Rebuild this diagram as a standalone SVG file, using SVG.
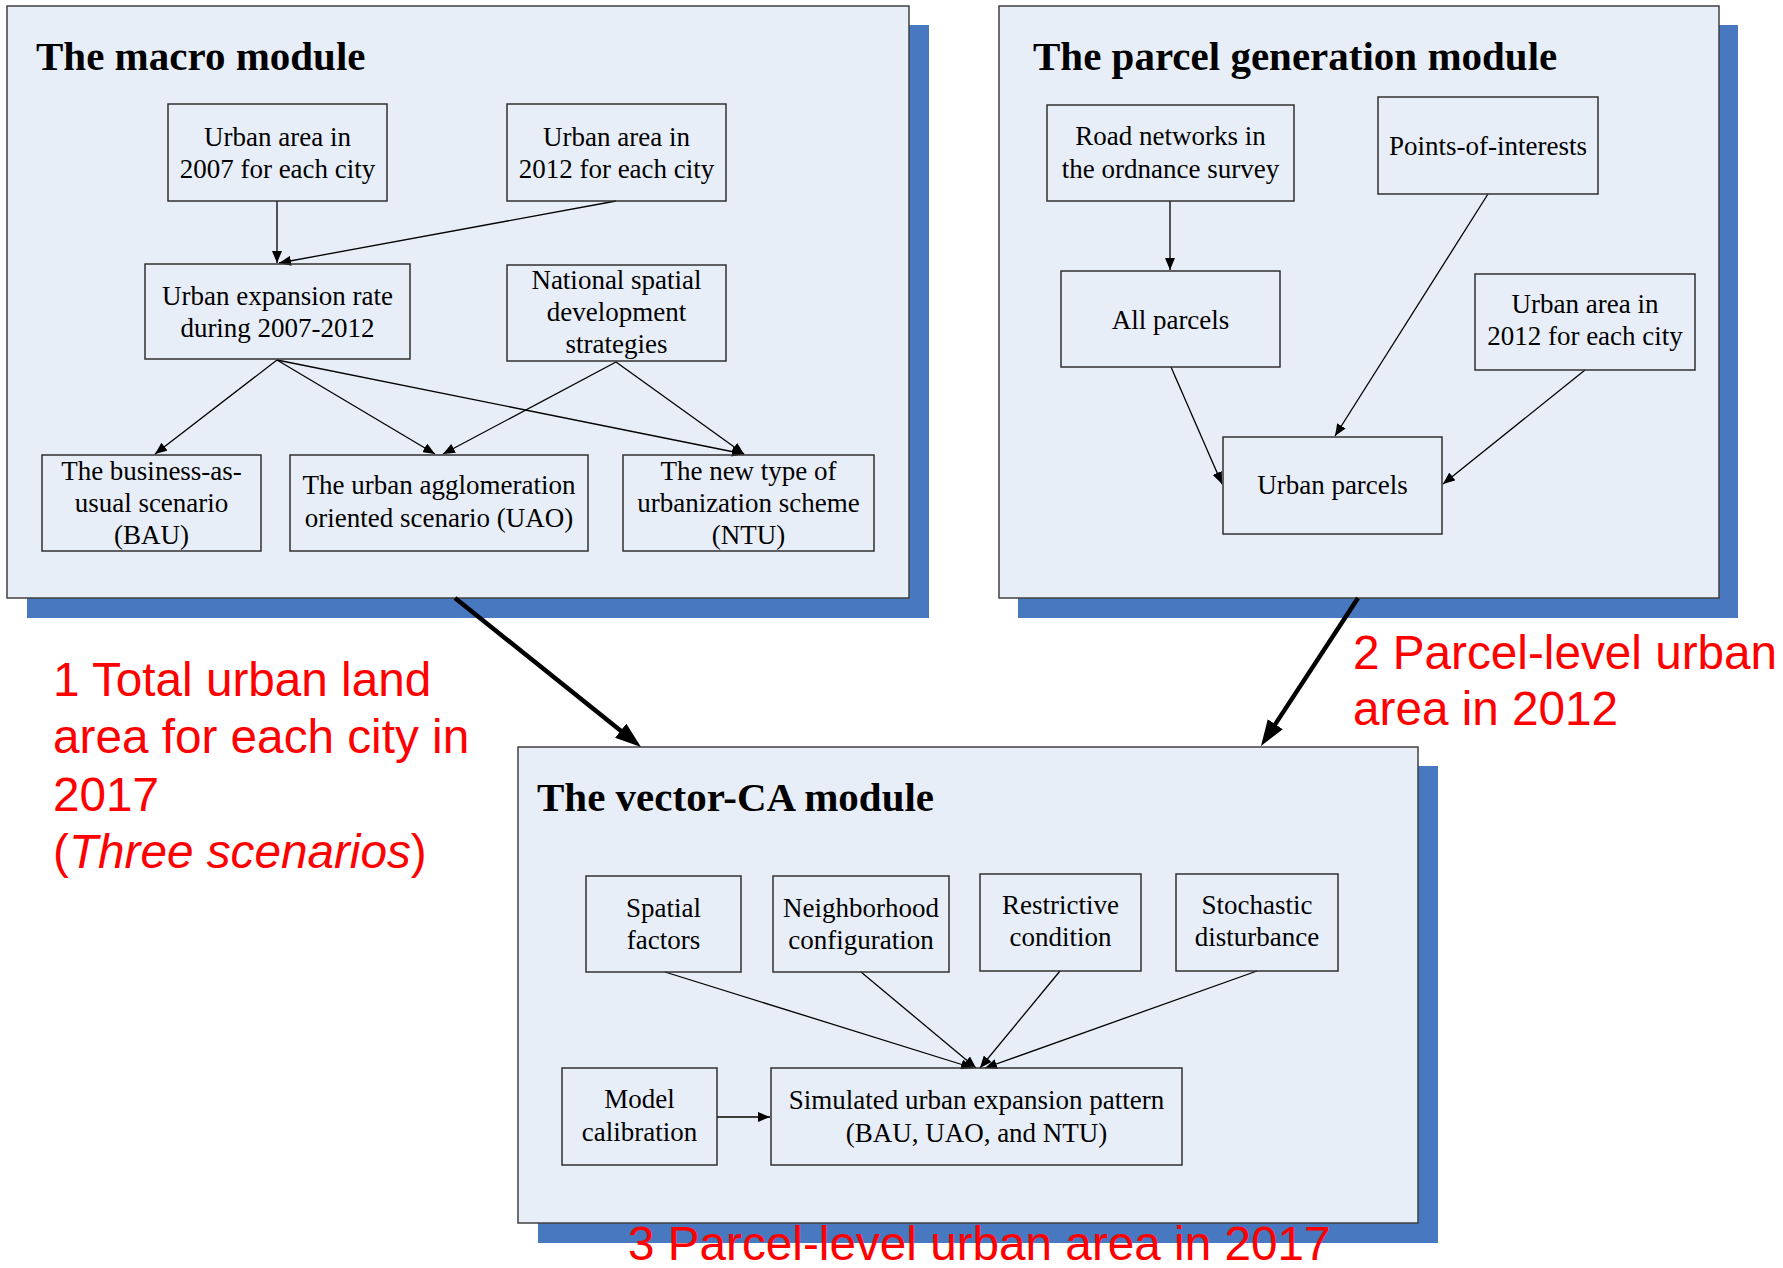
<svg xmlns="http://www.w3.org/2000/svg" width="1783" height="1268" viewBox="0 0 1783 1268">
<style>
.shadow{fill:#4878C0}
.panel{fill:#E8EEF8;stroke:#404040;stroke-width:1.5}
.node rect{fill:none;stroke:#303030;stroke-width:1.5}
.t{font-family:"Liberation Serif","Times New Roman",serif;font-size:27px;text-anchor:middle;fill:#000}
.title{font-family:"Liberation Serif","Times New Roman",serif;font-weight:bold;font-size:41px;fill:#000}
.red{font-family:"Liberation Sans",Arial,sans-serif;font-size:47.7px;fill:#FF0000}
.conn{stroke:#000;stroke-width:1.3;fill:none;marker-end:url(#a)}
.thick{stroke:#000;stroke-width:4.5;fill:none;marker-end:url(#A)}
</style>
<defs>
<marker id="a" markerUnits="userSpaceOnUse" markerWidth="13" markerHeight="10" refX="12" refY="5" orient="auto">
<path d="M0,0 L12,5 L0,10 z" fill="#000"/>
</marker>
<marker id="A" markerUnits="userSpaceOnUse" markerWidth="26" markerHeight="20" refX="16" refY="9" orient="auto">
<path d="M0,0 L26,9 L0,18 z" fill="#000"/>
</marker>
</defs>
<rect width="1783" height="1268" fill="#FFFFFF"/>

<g id="panel-macro">
<rect class="shadow" x="27" y="25" width="902" height="593"/>
<rect class="panel" x="7" y="6" width="902" height="592"/>
<text class="title" x="36" y="70">The macro module</text>
</g>
<g id="panel-parcel">
<rect class="shadow" x="1018" y="25" width="720" height="593"/>
<rect class="panel" x="999" y="6" width="720" height="592"/>
<text class="title" x="1033" y="70">The parcel generation module</text>
</g>
<g id="panel-vector">
<rect class="shadow" x="538" y="766" width="900" height="477"/>
<rect class="panel" x="518" y="747" width="900" height="476"/>
<text class="title" x="537" y="811">The vector-CA module</text>
</g>

<g id="connectors">
<line class="conn" x1="277" y1="201" x2="277" y2="263"/>
<line class="conn" x1="616" y1="201" x2="279" y2="263"/>
<line class="conn" x1="277" y1="360" x2="155" y2="454"/>
<line class="conn" x1="277" y1="360" x2="435" y2="454"/>
<line class="conn" x1="277" y1="360" x2="744" y2="454"/>
<line class="conn" x1="616" y1="362" x2="443" y2="454"/>
<line class="conn" x1="616" y1="362" x2="744" y2="454"/>
<line class="conn" x1="1170" y1="201" x2="1170" y2="270"/>
<line class="conn" x1="1171" y1="367" x2="1222" y2="484"/>
<line class="conn" x1="1488" y1="194" x2="1335" y2="436"/>
<line class="conn" x1="1585" y1="370" x2="1443" y2="484"/>
<line class="conn" x1="665" y1="972" x2="973" y2="1068"/>
<line class="conn" x1="861" y1="972" x2="976" y2="1068"/>
<line class="conn" x1="1060" y1="971" x2="980" y2="1068"/>
<line class="conn" x1="1257" y1="971" x2="985" y2="1068"/>
<line class="conn" x1="717" y1="1117" x2="770" y2="1117"/>
<line class="thick" x1="455" y1="598" x2="633.2" y2="740.7"/>
<line class="thick" x1="1358" y1="598" x2="1266.5" y2="737.6"/>
</g>

<g id="n-urban2007" class="node"><rect x="168" y="104" width="219" height="97"/>
<text class="t" x="277.5" y="145.5">Urban area in</text><text class="t" x="277.5" y="177.5">2007 for each city</text></g>
<g id="n-urban2012-macro" class="node"><rect x="507" y="104" width="219" height="97"/>
<text class="t" x="616.5" y="145.5">Urban area in</text><text class="t" x="616.5" y="177.5">2012 for each city</text></g>
<g id="n-rate" class="node"><rect x="145" y="264" width="265" height="95"/>
<text class="t" x="277.5" y="305">Urban expansion rate</text><text class="t" x="277.5" y="337">during 2007-2012</text></g>
<g id="n-national" class="node"><rect x="507" y="265" width="219" height="96"/>
<text class="t" x="616.5" y="289">National spatial</text><text class="t" x="616.5" y="321">development</text><text class="t" x="616.5" y="353">strategies</text></g>
<g id="n-bau" class="node"><rect x="42" y="455" width="219" height="96"/>
<text class="t" x="151.5" y="480">The business-as-</text><text class="t" x="151.5" y="512">usual scenario</text><text class="t" x="151.5" y="544">(BAU)</text></g>
<g id="n-uao" class="node"><rect x="290" y="455" width="298" height="96"/>
<text class="t" x="439" y="494">The urban agglomeration</text><text class="t" x="439" y="527">oriented scenario (UAO)</text></g>
<g id="n-ntu" class="node"><rect x="623" y="455" width="251" height="96"/>
<text class="t" x="748.5" y="480">The new type of</text><text class="t" x="748.5" y="512">urbanization scheme</text><text class="t" x="748.5" y="544">(NTU)</text></g>

<g id="n-road" class="node"><rect x="1047" y="105" width="247" height="96"/>
<text class="t" x="1170.5" y="145">Road networks in</text><text class="t" x="1170.5" y="177.5">the ordnance survey</text></g>
<g id="n-poi" class="node"><rect x="1378" y="97" width="220" height="97"/>
<text class="t" x="1488" y="155">Points-of-interests</text></g>
<g id="n-all" class="node"><rect x="1061" y="271" width="219" height="96"/>
<text class="t" x="1170.5" y="329">All parcels</text></g>
<g id="n-urban2012-parcel" class="node"><rect x="1475" y="274" width="220" height="96"/>
<text class="t" x="1585" y="313">Urban area in</text><text class="t" x="1585" y="345">2012 for each city</text></g>
<g id="n-urbanparcels" class="node"><rect x="1223" y="437" width="219" height="97"/>
<text class="t" x="1332.5" y="494">Urban parcels</text></g>

<g id="n-spatial" class="node"><rect x="586" y="876" width="155" height="96"/>
<text class="t" x="663.5" y="917">Spatial</text><text class="t" x="663.5" y="949">factors</text></g>
<g id="n-neigh" class="node"><rect x="773" y="876" width="176" height="96"/>
<text class="t" x="861" y="917">Neighborhood</text><text class="t" x="861" y="949">configuration</text></g>
<g id="n-restrict" class="node"><rect x="980" y="874" width="161" height="97"/>
<text class="t" x="1060.5" y="914">Restrictive</text><text class="t" x="1060.5" y="946">condition</text></g>
<g id="n-stoch" class="node"><rect x="1176" y="874" width="162" height="97"/>
<text class="t" x="1257" y="914">Stochastic</text><text class="t" x="1257" y="946">disturbance</text></g>
<g id="n-model" class="node"><rect x="562" y="1068" width="155" height="97"/>
<text class="t" x="639.5" y="1108">Model</text><text class="t" x="639.5" y="1141">calibration</text></g>
<g id="n-sim" class="node"><rect x="771" y="1068" width="411" height="97"/>
<text class="t" x="976.5" y="1109">Simulated urban expansion pattern</text><text class="t" x="976.5" y="1142">(BAU, UAO, and NTU)</text></g>

<g id="labels">
<text class="red" x="53" y="696">1 Total urban land</text>
<text class="red" x="53" y="753">area for each city in</text>
<text class="red" x="53" y="811">2017</text>
<text class="red" x="53" y="868">(<tspan font-style="italic">Three scenarios</tspan>)</text>
<text class="red" x="1353" y="669">2 Parcel-level urban</text>
<text class="red" x="1353" y="725">area in 2012</text>
<text class="red" x="628" y="1260">3 Parcel-level urban area in 2017</text>
</g>
</svg>
